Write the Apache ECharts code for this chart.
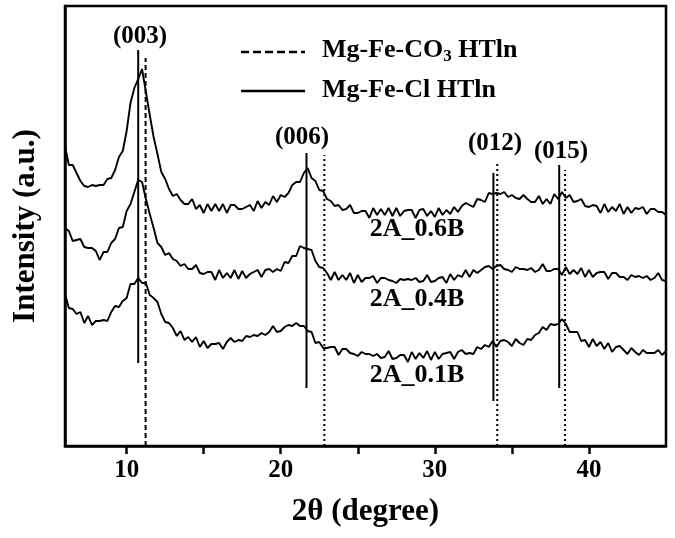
<!DOCTYPE html>
<html><head><meta charset="utf-8">
<script src="https://cdn.jsdelivr.net/npm/echarts@6/dist/echarts.min.js"></script>
<style>html,body{margin:0;padding:0;background:#fff}#c{width:675px;height:538px}</style>
</head><body><div id="c"></div>
<script>
// sampling grid of 2-theta (degrees)
const thetaStart = 6, thetaStep = 0.25;
const xTicks = [10, 15, 20, 25, 30, 35, 40];
const xLabels = [10, 20, 30, 40];

// intensity (a.u.), one value per grid step
const s06 = [300,281,281,273,265,260,259,261,260,261,
261,267,268,276,289,295,315,343,358,367,
377,354,331,309,292,274,267,257,250,252,
246,242,242,247,237,241,233,242,235,242,
235,242,233,241,241,237,237,239,241,235,
245,238,244,241,250,244,251,249,253,261,
264,264,273,278,268,265,256,255,247,245,
240,241,236,237,241,233,233,235,235,228,
238,231,237,231,238,230,238,230,235,236,
236,228,236,237,230,235,229,238,231,236,
232,239,234,240,243,241,239,247,246,244,
253,252,253,252,254,249,251,248,247,251,
247,244,244,250,242,247,242,252,247,254,
248,251,244,245,247,240,239,241,240,233,
242,234,239,235,242,232,239,233,238,237,
239,232,237,237,234,234,231];
const s04 = [218,215,205,206,207,199,198,198,195,186,
194,194,203,207,218,219,235,242,254,266,
264,247,232,218,203,199,191,193,187,185,
180,182,177,177,181,173,172,174,174,166,
176,168,173,168,176,167,175,168,172,174,
176,169,176,177,174,177,175,184,183,190,
190,200,198,197,196,185,179,178,173,166,
174,166,171,166,173,163,171,164,168,168,
170,163,168,168,166,165,163,167,166,167,
166,168,164,165,171,164,165,168,169,163,
172,166,171,169,176,169,176,173,176,179,
180,177,180,181,177,176,174,179,177,177,
176,178,174,176,182,175,175,177,177,171,
179,172,176,172,178,169,176,169,173,174,
174,167,173,173,169,169,166,171,169,170,
168,170,166,168,173,166,165];
const s01 = [152,138,137,132,134,123,130,121,125,125,
126,125,134,140,139,145,148,162,162,168,
163,163,151,148,144,132,124,123,118,110,
115,106,109,104,109,99,105,98,102,102,
103,97,104,108,104,106,105,110,109,111,
110,113,111,114,120,114,115,119,121,120,
123,120,120,115,114,103,104,98,98,99,
99,91,97,97,93,92,90,94,92,92,
90,92,88,89,95,87,88,91,91,84,
94,87,93,88,95,86,94,87,92,93,
94,87,94,96,92,93,92,99,97,101,
99,105,99,105,106,104,100,107,103,101,
107,106,111,113,119,116,122,121,122,127,
122,114,114,114,105,106,99,107,100,104,
97,103,94,99,100,96,92,98,94,91,
96,93,93,93,96,91,95];

// reference reflections
const clPeaks = [10.75, 21.67, 33.8, 38.07];   // Mg-Fe-Cl HTln (solid)
const clTop = [396, 293, 273, 281];
const clBottom = [83, 58, 45, 58];
const co3Peaks = [11.23, 22.83, 34.05, 38.45]; // Mg-Fe-CO3 HTln (dashed/dotted)
const co3Top = [388, 291, 284, 276];
const co3Bottom = [0, 0, 0, 0];
const peakLabels = ['(003)', '(006)', '(012)', '(015)'];
const sampleNames = ['2A_0.6B', '2A_0.4B', '2A_0.1B'];

const FONT = '"Liberation Serif", "Times New Roman", serif';
function toPairs(arr) { return arr.map((v, i) => [thetaStart + i * thetaStep, v]); }

const series = [];
[s06, s04, s01].forEach((arr, k) => {
  series.push({
    type: 'line', name: sampleNames[k], data: toPairs(arr), showSymbol: false, silent: true,
    lineStyle: { color: '#000', width: 1.9 }, z: 3
  });
});
clPeaks.forEach((p, i) => {
  series.push({ type: 'line', data: [[p, clBottom[i]], [p, clTop[i]]], showSymbol: false, silent: true,
    lineStyle: { color: '#000', width: 2, type: 'solid' }, z: 4 });
});
co3Peaks.forEach((p, i) => {
  series.push({ type: 'line', data: [[p, co3Bottom[i]], [p, co3Top[i]]], showSymbol: false, silent: true,
    lineStyle: { color: '#000', width: 2, type: i === 0 ? [5, 3] : [2, 3] }, z: 4 });
});

// annotation layout (pixels)
const peakLabelPos = [[140, 37], [302, 138], [495, 144], [561, 152]];
const sampleLabelPos = [[417, 229], [417, 299], [417, 375]];

const graphic = [];
peakLabels.forEach((t, i) => graphic.push({ type: 'text', x: peakLabelPos[i][0], y: peakLabelPos[i][1], z: 10,
  style: { text: t, font: 'bold 25px ' + FONT, fill: '#000', align: 'center', verticalAlign: 'middle' } }));
sampleNames.forEach((t, i) => graphic.push({ type: 'text', x: sampleLabelPos[i][0], y: sampleLabelPos[i][1], z: 10,
  style: { text: t, font: 'bold 26px ' + FONT, fill: '#000', align: 'center', verticalAlign: 'middle' } }));
graphic.push({ type: 'line', z: 10, shape: { x1: 241, y1: 52, x2: 305, y2: 52 }, style: { stroke: '#000', lineWidth: 2.5, lineDash: [8, 4] } });
graphic.push({ type: 'line', z: 10, shape: { x1: 241, y1: 91, x2: 305, y2: 91 }, style: { stroke: '#000', lineWidth: 2.5 } });
graphic.push({ type: 'text', x: 322, y: 50, z: 10, style: {
  text: '{a|Mg-Fe-CO}{s|3}{a| HTln}', verticalAlign: 'middle', align: 'left', fill: '#000',
  rich: { a: { font: 'bold 26px ' + FONT, lineHeight: 30 }, s: { font: 'bold 17px ' + FONT, verticalAlign: 'bottom', lineHeight: 17 } } } });
graphic.push({ type: 'text', x: 322, y: 90, z: 10, style: {
  text: 'Mg-Fe-Cl HTln', font: 'bold 26px ' + FONT, fill: '#000', align: 'left', verticalAlign: 'middle' } });

const chart = echarts.init(document.getElementById('c'), null, { renderer: 'canvas' });
chart.setOption({
  animation: false,
  backgroundColor: '#fff',
  grid: { left: 65, right: 9, top: 6, bottom: 92, show: true, borderColor: '#000', borderWidth: 2.5, containLabel: false },
  xAxis: {
    type: 'value', min: 6, max: 45,
    name: '2θ (degree)', nameLocation: 'middle', nameGap: 50,
    nameTextStyle: { fontFamily: FONT, fontWeight: 'bold', fontSize: 31, color: '#000' },
    axisLine: { show: true, lineStyle: { color: '#000', width: 2.5 } },
    axisTick: { show: true, customValues: xTicks, length: 8, inside: false, lineStyle: { color: '#000', width: 2.5 } },
    axisLabel: { show: true, customValues: xLabels, margin: 12, fontFamily: FONT, fontWeight: 'bold', fontSize: 25, color: '#000' },
    splitLine: { show: false }
  },
  yAxis: {
    type: 'value', min: 0, max: 440,
    name: 'Intensity (a.u.)', nameLocation: 'middle', nameGap: 24,
    nameTextStyle: { fontFamily: FONT, fontWeight: 'bold', fontSize: 31, color: '#000' },
    axisLine: { show: true, lineStyle: { color: '#000', width: 2.5 } },
    axisTick: { show: false }, axisLabel: { show: false }, splitLine: { show: false }
  },
  graphic: graphic,
  series: series
});
</script></body></html>
